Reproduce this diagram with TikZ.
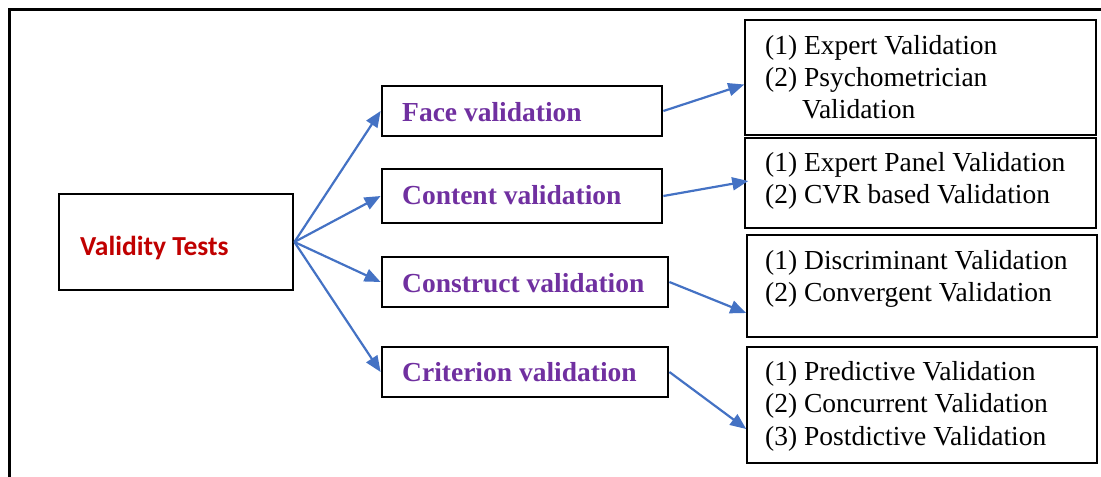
\documentclass[tikz,border=0pt]{standalone}
\usepackage{fontspec}
\setmainfont{Liberation Serif}
\newfontfamily\calibri{Carlito}
\usetikzlibrary{arrows.meta}
\definecolor{testred}{HTML}{C00000}
\definecolor{valpurple}{HTML}{7030A0}
\definecolor{arrowblue}{HTML}{4472C4}

\begin{document}
\begin{tikzpicture}[x=1bp, y=-1bp,
    thickbox/.style={draw, line width=2.8bp, inner sep=0pt},
    thinbox/.style={draw, line width=1.5bp, inner sep=0pt},
    txt/.style={inner sep=0pt, anchor=base west, font=\fontsize{27.5bp}{32bp}\selectfont},
    headtxt/.style={txt, font=\fontsize{27.5bp}{32bp}\selectfont\bfseries, text=valpurple},
    roottxt/.style={txt, font=\calibri\fontsize{27.5bp}{32bp}\selectfont\bfseries, text=testred},
    link/.style={arrowblue, line width=2.2bp, -{Triangle[length=16bp,width=13bp]}}]
    \useasboundingbox (0,0) rectangle (1101,477);
    \draw[line width=3bp](9,477)--(9,10)--(1101,10);

    \node[thickbox, minimum width=234bp, minimum height=96bp] (root) at (176,242){};
    \node[roottxt] (roottext) at (80,256){Validity Tests};

    \node[thickbox, minimum width=280bp, minimum height=50bp] (face) at (522,111){};
    \node[thickbox, minimum width=280bp, minimum height=54bp] (content) at (522,196){};
    \node[thickbox, minimum width=286bp, minimum height=50bp] (construct) at (525,282){};
    \node[thickbox, minimum width=286bp, minimum height=50bp] (criterion) at (525,372){};
    \node[headtxt] (facetext) at (402,122){Face validation};
    \node[headtxt] (contenttext) at (402,205){Content validation};
    \node[headtxt] (constructtext) at (402,293){Construct validation};
    \node[headtxt] (criteriontext) at (402,382){Criterion validation};

    \node[thinbox, minimum width=351bp, minimum height=115bp] (facelist) at (920.5,77.5){};
    \node[thinbox, minimum width=351bp, minimum height=90bp] (contentlist) at (920.5,183){};
    \node[thinbox, minimum width=350bp, minimum height=102bp] (constructlist) at (922,286){};
    \node[thinbox, minimum width=350bp, minimum height=116bp] (criterionlist) at (922,405){};
    \node[txt] (facelisttext) at (765,55){\begin{tabular}[t]{@{}l@{}}(1) Expert Validation\\(2) Psychometrician\\\hspace{37bp}Validation\end{tabular}};
    \node[txt] (contentlisttext) at (765,172){\begin{tabular}[t]{@{}l@{}}(1) Expert Panel Validation\\(2) CVR based Validation\end{tabular}};
    \node[txt] (constructlisttext) at (765,270){\begin{tabular}[t]{@{}l@{}}(1) Discriminant Validation\\(2) Convergent Validation\end{tabular}};
    \node[txt] (criterionlisttext) at (765,381){\begin{tabular}[t]{@{}l@{}}(1) Predictive Validation\\(2) Concurrent Validation\\(3) Postdictive Validation\end{tabular}};

    \draw[link](root.east)--(face.west);
    \draw[link](root.east)--(content.west);
    \draw[link](root.east)--(construct.west);
    \draw[link](root.east)--(criterion.west);
    \draw[link](face.east)--([yshift=-7bp]facelist.west);
    \draw[link](content.east)--([xshift=4bp,yshift=2bp]contentlist.west);
    \draw[link](construct.east)--([yshift=-27bp]constructlist.west);
    \draw[link](criterion.east)--([yshift=-24bp]criterionlist.west);
\end{tikzpicture}
\end{document}
